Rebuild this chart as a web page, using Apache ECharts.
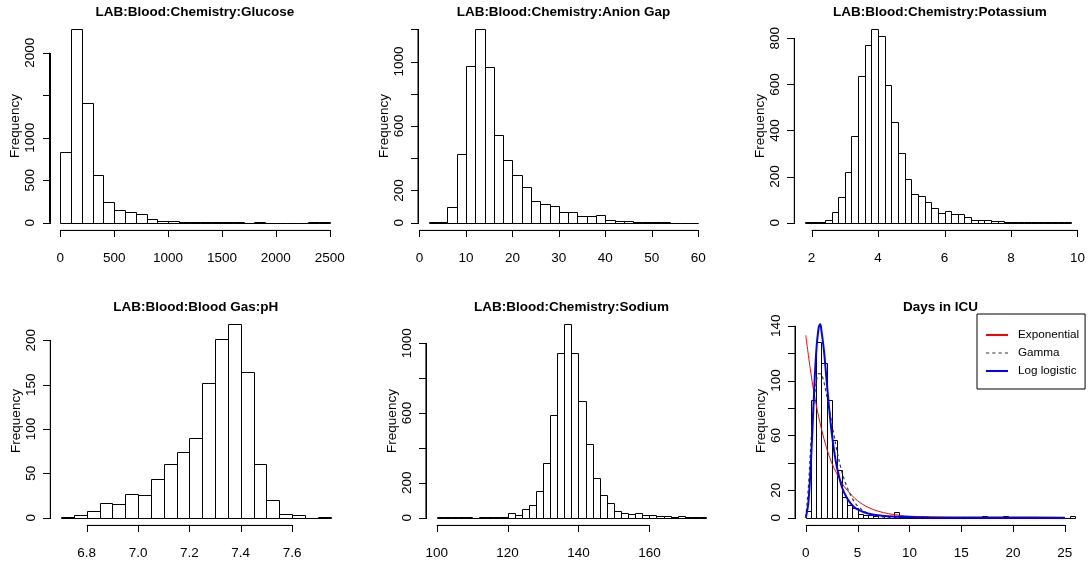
<!DOCTYPE html>
<html><head><meta charset="utf-8">
<script src="https://cdn.jsdelivr.net/npm/echarts@6/dist/echarts.min.js"></script>
<style>html,body{margin:0;padding:0;background:#fff}#c{width:1088px;height:567px}</style>
</head><body><div id="c"></div>
<script>
// ---------- data ----------
const titles = ['LAB:Blood:Chemistry:Glucose','LAB:Blood:Chemistry:Anion Gap','LAB:Blood:Chemistry:Potassium',
                'LAB:Blood:Blood Gas:pH','LAB:Blood:Chemistry:Sodium','Days in ICU'];

// histogram bins: first break, bin width, counts
const glucoseStart = 0, glucoseBin = 100;
const glucoseCounts = [835,2275,1408,565,243,153,122,106,39,24,15,12,8,5,3,3,2,1,3,1,1,1,1,2,2];
const glucoseXTicks = [0,500,1000,1500,2000,2500];
const glucoseYTicks = [0,500,1000,1500,2000];
const glucoseYLabels = [0,500,1000,2000];

const anionStart = 2, anionBin = 2;
const anionCounts = [4,5,97,424,973,1200,968,544,387,294,224,135,118,101,64,64,39,39,48,19,12,12,4,3,3,2,1,1,1];
const anionXTicks = [0,10,20,30,40,50,60];
const anionYTicks = [0,200,400,600,800,1000,1200];
const anionYLabels = [0,200,600,1000];

const potassiumStart = 1.8, potassiumBin = 0.2;
const potassiumCounts = [1,2,3,10,46,110,221,375,635,770,839,809,596,436,302,191,126,114,90,62,40,52,36,36,23,13,10,10,9,6,3,2,3,5,3,1,1,1,1,2];
const potassiumXTicks = [2,4,6,8,10];
const potassiumYTicks = [0,200,400,600,800];
const potassiumYLabels = [0,200,400,600,800];

const phStart = 6.70, phBin = 0.05;
const phCounts = [1,3,7,17,15,27,25,44,61,74,90,152,202,218,164,61,20,4,3,0,1];
const phXTicks = [6.8,7.0,7.2,7.4,7.6];
const phYTicks = [0,50,100,150,200];
const phYLabels = [0,50,100,150,200];

const sodiumStart = 100, sodiumBin = 2;
const sodiumCounts = [1,1,1,1,2,0,1,2,1,3,25,13,48,71,155,315,589,943,1109,943,669,421,229,128,82,40,27,19,25,13,13,9,9,5,7,3,2,2];
const sodiumXTicks = [100,120,140,160];
const sodiumYTicks = [0,200,400,600,800,1000];
const sodiumYLabels = [0,200,600,1000];

const icuStart = 0, icuBin = 0.5;
const icuCounts = [5,86,128,113,86,57,35,15,9,7,3,2,2,1,0,1,0,4,0,0,0,0,0,0,0,0,0,0,0,0,0,0,0,0,1,0,0,0,1,0,0,0,0,0,0,0,0,0,0,0,0,1];
const icuXTicks = [0,5,10,15,20,25];
const icuYTicks = [0,20,40,60,80,100,120,140];
const icuYLabels = [0,20,60,100,140];

// fitted curves
const expCurve = [[0,133],[0.5,105],[1,82.5],[1.5,65],[2,51],[2.5,40],[3,32],[3.5,25],[4,20],[5,12.3],[6,7.6],[7,4.7],[8,2.9],[9,1.8],[10,1.1],[12,0.44],[15,0.1],[20,0.01],[25,0]];
const gammaCurve = [[0,0],[0.25,22],[0.5,55],[0.75,82],[1,98],[1.25,105],[1.5,104.5],[1.75,99],[2,90],[2.25,80],[2.5,69],[2.75,59],[3,49],[3.5,33],[4,22],[4.5,14],[5,8.6],[6,3.1],[7,1.1],[8,0.4],[10,0.05],[15,0],[25,0]];
const loglogCurve = [[0,0],[0.25,11],[0.5,41],[0.75,83],[1,120],[1.25,139],[1.4,141],[1.5,137],[1.75,122],[2,101],[2.25,80],[2.5,62],[2.75,48],[3,37],[3.5,22],[4,14],[4.5,9],[5,6],[6,3],[7,1.8],[8,1],[10,0.4],[12,0.2],[15,0.1],[20,0.05],[25,0.02]];
const curveNames = ['Exponential','Gamma','Log logistic'];

// ---------- layout ----------
const FONT = '"Liberation Sans", Arial, Helvetica, sans-serif';
const panels = [
  {start:glucoseStart, bin:glucoseBin, counts:glucoseCounts, xt:glucoseXTicks, yt:glucoseYTicks, yl:glucoseYLabels, dec:0, left:49.5, top:21.6},
  {start:anionStart, bin:anionBin, counts:anionCounts, xt:anionXTicks, yt:anionYTicks, yl:anionYLabels, dec:0, left:418, top:21.6},
  {start:potassiumStart, bin:potassiumBin, counts:potassiumCounts, xt:potassiumXTicks, yt:potassiumYTicks, yl:potassiumYLabels, dec:0, left:794.3, top:21.6},
  {start:phStart, bin:phBin, counts:phCounts, xt:phXTicks, yt:phYTicks, yl:phYLabels, dec:1, left:50.3, top:316.6},
  {start:sodiumStart, bin:sodiumBin, counts:sodiumCounts, xt:sodiumXTicks, yt:sodiumYTicks, yl:sodiumYLabels, dec:0, left:425.9, top:316.6},
  {start:icuStart, bin:icuBin, counts:icuCounts, xt:icuXTicks, yt:icuYTicks, yl:icuYLabels, dec:0, left:795, top:316.6,
   curves:[expCurve,gammaCurve,loglogCurve]}
];
const W = 291, H = 208.8;
const crisp = v => Math.round(v) + 0.5;
const curveStyles = [{color:'#ff0000', width:1}, {color:'#333333', width:1.2, type:[3,3]}, {color:'#0000ff', width:2}];

const grid = [], xAxis = [], yAxis = [], series = [], title = [];
panels.forEach((p, i) => {
  const end = p.start + p.bin * p.counts.length;
  const xr = end - p.start;
  p.xmin = p.start - 0.04 * xr; p.xmax = end + 0.04 * xr;
  let ytop = Math.max(...p.counts);
  if (p.curves) p.curves.forEach(c => c.forEach(d => { if (d[1] > ytop) ytop = d[1]; }));
  p.ymin = -0.04 * ytop; p.ymax = 1.04 * ytop;
  grid.push({left:p.left, top:p.top, width:W, height:H});
  title.push({text:titles[i], left:p.left + W/2, top:p.top - 16.3, textAlign:'center', padding:0,
    textStyle:{fontFamily:FONT, fontSize:13.5, fontWeight:'bold', color:'#000'}});
  xAxis.push({type:'value', gridIndex:i, min:p.xmin, max:p.xmax,
    axisLine:{show:false, onZero:false}, splitLine:{show:false}, axisTick:{show:false},
    axisLabel:{customValues:p.xt, margin:21, color:'#000', fontFamily:FONT, fontSize:13.5,
      formatter:v => Number(v).toFixed(p.dec)}});
  yAxis.push({type:'value', gridIndex:i, min:p.ymin, max:p.ymax,
    name:'Frequency', nameLocation:'middle', nameGap:27, nameRotate:90,
    nameTextStyle:{fontFamily:FONT, fontSize:13.5, color:'#000'},
    axisLine:{show:false, onZero:false}, splitLine:{show:false}, axisTick:{show:false},
    axisLabel:{customValues:p.yl, rotate:90, margin:12, color:'#000', fontFamily:FONT, fontSize:13.5,
      formatter:v => String(Math.round(v))}});
  const bars = p.counts.map((c, k) => [p.start + k * p.bin, p.start + (k + 1) * p.bin, c]);
  series.push({type:'custom', xAxisIndex:i, yAxisIndex:i, data:bars, encode:{x:[0,1], y:2}, silent:true,
    renderItem:(params, api) => {
      const a = api.coord([api.value(0), 0]);
      const b = api.coord([api.value(1), api.value(2)]);
      const x0 = crisp(a[0]), x1 = crisp(b[0]);
      const y0 = crisp(a[1]), y1 = crisp(b[1]);
      return {type:'rect', shape:{x:x0, y:y1, width:x1 - x0, height:y0 - y1},
        style:{fill:'none', stroke:'#000', lineWidth:1}};
    }});
  // axis lines from first to last tick, drawn as line series on the panel's own axes
  series.push({type:'line', xAxisIndex:i, yAxisIndex:i, data:[[p.xt[0], p.ymin],[p.xt[p.xt.length-1], p.ymin]],
    symbol:'none', clip:false, silent:true, z:8, lineStyle:{color:'#000', width:1}});
  series.push({type:'line', xAxisIndex:i, yAxisIndex:i, data:[[p.xmin, p.yt[0]],[p.xmin, p.yt[p.yt.length-1]]],
    symbol:'none', clip:false, silent:true, z:8, lineStyle:{color:'#000', width:1}});
  if (p.curves) {
    p.curves.forEach((c, k) => {
      series.push({type:'line', name:curveNames[k], xAxisIndex:i, yAxisIndex:i, data:c, symbol:'none', smooth:0.35,
        silent:true, z:5, lineStyle:curveStyles[k], itemStyle:{color:curveStyles[k].color}});
    });
  }
});

const chart = echarts.init(document.getElementById('c'), null, {renderer:'canvas'});
chart.setOption({
  animation:false, backgroundColor:'#fff',
  title, grid, xAxis, yAxis, series,
  legend:{orient:'vertical', left:977, top:314, padding:[14,6,11,9], itemGap:4, itemWidth:22, itemHeight:2,
    data:[
      {name:'Exponential', icon:'rect'},
      {name:'Gamma', icon:'path://M0,0h3v1h-3zM6,0h3v1h-3zM12,0h3v1h-3zM18,0h3v1h-3z'},
      {name:'Log logistic', icon:'rect'}
    ],
    backgroundColor:'#fff', borderColor:'#000', borderWidth:1, borderRadius:0, selectedMode:false,
    textStyle:{fontFamily:FONT, fontSize:11.7, color:'#000', padding:[0,0,0,5], lineHeight:14, height:14}}
});

// outward tick marks and axis lines, positioned through the chart's own scales
const gfx = [];
panels.forEach((p, i) => {
  const px = v => chart.convertToPixel({gridIndex:i}, [v, p.ymin]);
  const py = v => chart.convertToPixel({gridIndex:i}, [p.xmin, v]);
  const yb = Math.round(px(p.xt[0])[1]);
  const xl = Math.round(py(p.yt[0])[0]);
  const xs = p.xt.map(t => Math.round(px(t)[0]));
  const ys = p.yt.map(t => Math.round(py(t)[1]));
  const fill = () => ({fill:'#000'});
  gfx.push({type:'rect', silent:true, z:10, shape:{x:xs[0], y:yb, width:xs[xs.length-1] - xs[0] + 1, height:1}, style:fill()});
  xs.forEach(x => gfx.push({type:'rect', silent:true, z:10, shape:{x:x, y:yb, width:1, height:7}, style:fill()}));
  gfx.push({type:'rect', silent:true, z:10, shape:{x:xl, y:ys[ys.length-1], width:1, height:ys[0] - ys[ys.length-1] + 1}, style:fill()});
  ys.forEach(y => gfx.push({type:'rect', silent:true, z:10, shape:{x:xl - 7, y:y, width:7, height:1}, style:fill()}));
});
chart.setOption({graphic:{elements:gfx}});
</script></body></html>
